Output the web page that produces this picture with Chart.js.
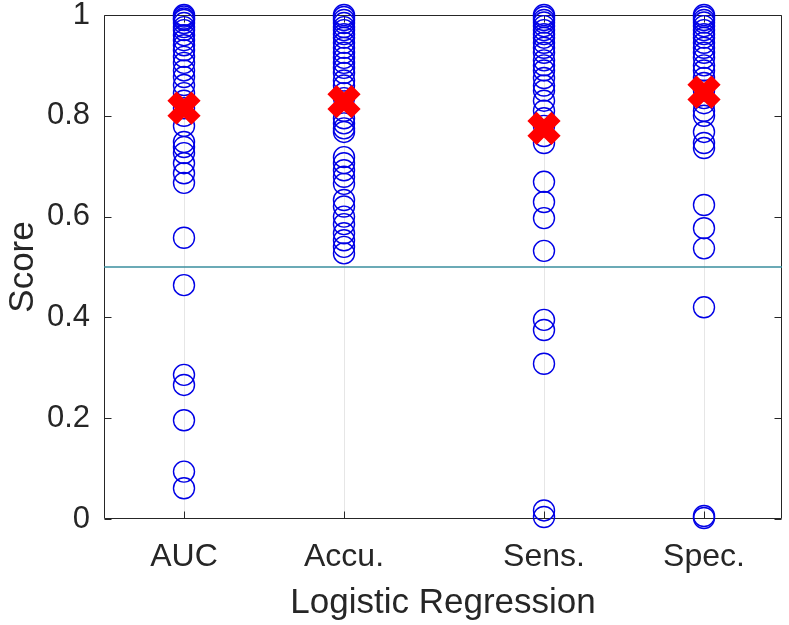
<!DOCTYPE html>
<html><head><meta charset="utf-8">
<script src="https://cdn.jsdelivr.net/npm/chart.js@4/dist/chart.umd.min.js"></script>
<style>html,body{margin:0;padding:0;background:#fff}#wrap{width:789px;height:625px;position:relative}</style>
</head><body><div id="wrap"><canvas id="c"></canvas></div>
<script>
const categories = ['AUC', 'Accu.', 'Sens.', 'Spec.'];
const categoryX = [1, 2, 3.25, 4.25];
const aucScores = [1.0, 0.997, 0.993, 0.99, 0.984, 0.976, 0.97, 0.96, 0.95, 0.94, 0.93, 0.917, 0.905, 0.89, 0.877, 0.861, 0.845, 0.83, 0.815, 0.80, 0.78, 0.748, 0.738, 0.726, 0.706, 0.686, 0.667, 0.558, 0.464, 0.286, 0.266, 0.196, 0.094, 0.061];
const accuScores = [1.0, 0.996, 0.99, 0.984, 0.976, 0.97, 0.962, 0.955, 0.945, 0.935, 0.925, 0.915, 0.905, 0.895, 0.885, 0.87, 0.86, 0.845, 0.835, 0.81, 0.795, 0.785, 0.775, 0.768, 0.718, 0.706, 0.692, 0.679, 0.665, 0.633, 0.62, 0.6, 0.585, 0.567, 0.553, 0.54, 0.527];
const sensScores = [1.0, 0.996, 0.99, 0.985, 0.978, 0.97, 0.962, 0.955, 0.945, 0.935, 0.925, 0.91, 0.9, 0.89, 0.875, 0.86, 0.85, 0.83, 0.81, 0.795, 0.78, 0.76, 0.746, 0.669, 0.629, 0.597, 0.532, 0.395, 0.375, 0.308, 0.017, 0.004];
const specScores = [1.0, 0.996, 0.99, 0.985, 0.978, 0.97, 0.962, 0.955, 0.945, 0.935, 0.925, 0.915, 0.9, 0.89, 0.875, 0.865, 0.85, 0.835, 0.825, 0.81, 0.8, 0.768, 0.746, 0.736, 0.623, 0.577, 0.537, 0.42, 0.006, 0.002];
const meanScores = [0.815, 0.828, 0.775, 0.847];
const threshold = 0.5;
const yTicks = [0, 0.2, 0.4, 0.6, 0.8, 1];
const xLabel = 'Logistic Regression';
const yLabel = 'Score';

const X_MIN = 0.5, X_MAX = 4.7375;
const TEXT = '#262626';
const FONT = '"Liberation Sans", Arial, Helvetica, sans-serif';

const allScores = [aucScores, accuScores, sensScores, specScores];
const circlePoints = [];
allScores.forEach((arr, i) => arr.forEach(v => circlePoints.push({x: categoryX[i], y: v})));
const meanPoints = meanScores.map((v, i) => ({x: categoryX[i], y: v}));

const framePlugin = {
  id: 'frame',
  beforeDatasetsDraw(chart) {
    const {ctx, chartArea: a, scales} = chart;
    ctx.save();
    ctx.strokeStyle = TEXT;
    ctx.lineWidth = 1;
    const L = Math.round(a.left) + 0.5, R = Math.round(a.right) - 0.5;
    const T = Math.round(a.top) + 0.5, B = Math.round(a.bottom) - 0.5;
    ctx.beginPath();
    ctx.rect(L, T, R - L, B - T);
    const tl = 7;
    yTicks.forEach(v => {
      const y = Math.round(scales.y.getPixelForValue(v)) + 0.5;
      ctx.moveTo(L, y); ctx.lineTo(L + tl, y);
      ctx.moveTo(R, y); ctx.lineTo(R - tl, y);
    });
    categoryX.forEach(v => {
      const x = Math.round(scales.x.getPixelForValue(v)) + 0.5;
      ctx.moveTo(x, B); ctx.lineTo(x, B - tl);
      ctx.moveTo(x, T); ctx.lineTo(x, T + tl);
    });
    ctx.stroke();
    ctx.restore();
  }
};

new Chart(document.getElementById('c'), {
  type: 'scatter',
  data: {
    datasets: [
      {
        label: 'Mean',
        data: meanPoints,
        pointStyle: 'crossRot',
        radius: 17,
        borderWidth: 13,
        borderColor: '#ff0000',
        backgroundColor: '#ff0000',
        clip: false,
        order: 0
      },
      {
        label: 'Scores',
        data: circlePoints,
        pointStyle: 'circle',
        radius: 10.5,
        borderWidth: 1.4,
        borderColor: '#0000e6',
        backgroundColor: 'rgba(0,0,0,0)',
        clip: false,
        order: 1
      },
      {
        type: 'line',
        label: 'Threshold',
        data: [{x: X_MIN, y: threshold}, {x: X_MAX, y: threshold}],
        borderColor: '#3a8e9e',
        borderWidth: 1.5,
        pointRadius: 0,
        fill: false,
        order: 2
      }
    ]
  },
  options: {
    responsive: true,
    maintainAspectRatio: false,
    animation: false,
    events: [],
    layout: {autoPadding: false, padding: {top: 15, right: 7, left: 0, bottom: 0}},
    plugins: {legend: {display: false}, tooltip: {enabled: false}},
    scales: {
      x: {
        type: 'linear',
        min: X_MIN, max: X_MAX,
        afterBuildTicks(scale) { scale.ticks = categoryX.map(v => ({value: v})); },
        afterFit(scale) { scale.height = 106; scale.paddingLeft = 0; scale.paddingRight = 0; },
        grid: {display: true, color: '#e6e6e6', lineWidth: 1, drawTicks: false},
        border: {display: false},
        ticks: {
          autoSkip: false, maxRotation: 0,
          padding: 19,
          color: TEXT,
          font: {family: FONT, size: 32},
          callback: (v) => categories[categoryX.indexOf(v)]
        },
        title: {display: true, text: xLabel, color: TEXT, font: {family: FONT, size: 35}, padding: {top: 0, bottom: 1}}
      },
      y: {
        type: 'linear',
        min: 0, max: 1,
        afterBuildTicks(scale) { scale.ticks = yTicks.map(v => ({value: v})); },
        afterFit(scale) { scale.width = 104; scale.paddingTop = 0; scale.paddingBottom = 0; },
        grid: {display: false, drawTicks: false},
        border: {display: false},
        ticks: {
          padding: 14,
          color: TEXT,
          font: {family: FONT, size: 31},
          callback: (v) => String(v)
        },
        title: {display: true, text: yLabel, color: TEXT, font: {family: FONT, size: 35}, padding: {top: 2, bottom: 0}}
      }
    }
  },
  plugins: [framePlugin]
});
</script>
</body></html>
